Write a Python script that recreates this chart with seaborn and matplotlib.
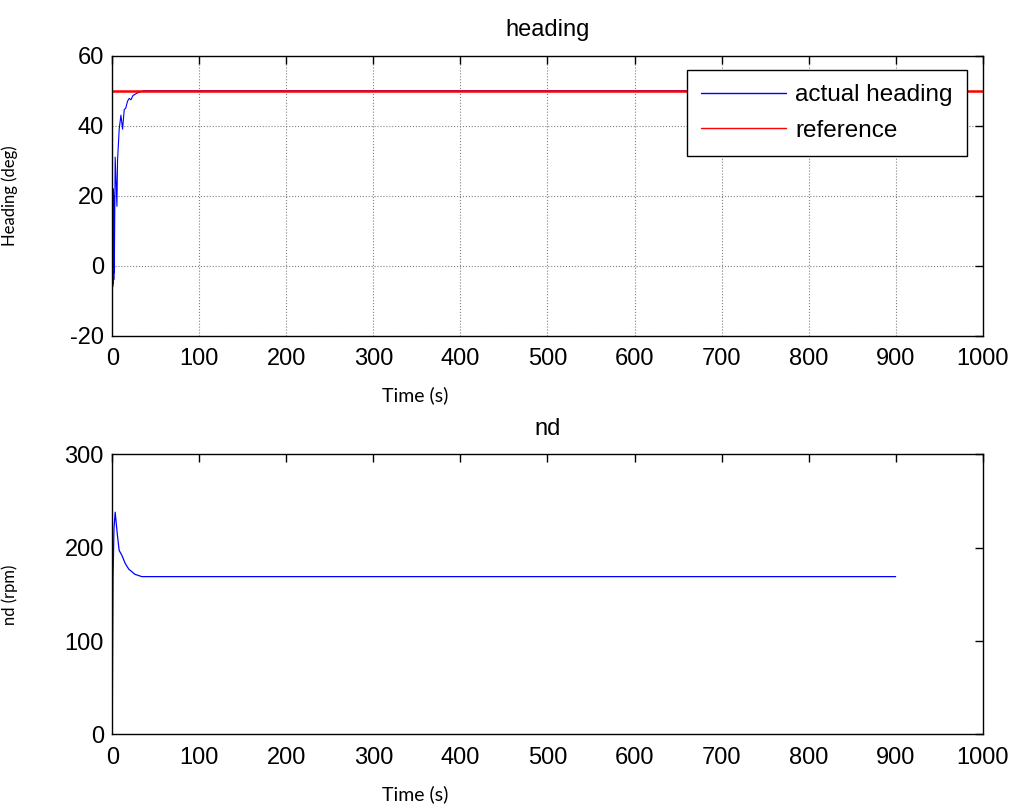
import numpy as np
import pandas as pd
import matplotlib
matplotlib.use("Agg")
import matplotlib.pyplot as plt
import seaborn as sns

# heading response (deg)
heading_t = [0, 0.3, 0.6, 0.9, 1.2, 1.5, 1.8, 2.1, 2.4, 3.4, 5.4, 6.1, 8.0, 10.0,
             11.9, 13.8, 15.5, 17.6, 19.5, 21.5, 23.8, 28.4, 36.0, 900]
heading_deg = [0, 22, -6, 22, -5, 21, -4, 20, -2, 31, 17, 30, 39, 43,
               39, 44.6, 45, 47, 47.8, 47.4, 48.6, 49.3, 50, 50]

# reference heading
ref_t = [0, 1000]
ref_deg = [50, 50]

# propeller speed nd (rpm)
nd_t = [0, 0.5, 1.0, 2.0, 3.4, 6.0, 8.0, 11.0, 15.0, 19.0, 26.0, 34.0, 900]
nd_rpm = [0, 90, 170, 220, 238, 213, 197, 192, 183, 177, 171.5, 169, 169]

x_ticks = list(range(0, 1001, 100))
heading_ticks = [-20, 0, 20, 40, 60]
nd_ticks = [0, 100, 200, 300]

sns.set_style("white")
plt.rcParams["font.family"] = ["Liberation Sans", "DejaVu Sans"]
plt.rcParams["axes.unicode_minus"] = False
plt.rcParams["text.color"] = "black"
plt.rcParams["axes.labelcolor"] = "black"
plt.rcParams["xtick.color"] = "black"
plt.rcParams["ytick.color"] = "black"
label_font = "Lato"

fig = plt.figure(figsize=(10.11, 8.07), dpi=100)
ax1 = fig.add_axes([0.111, 0.584, 0.861, 0.347])
ax2 = fig.add_axes([0.111, 0.090, 0.861, 0.347])

df_head = pd.DataFrame({"t": heading_t, "v": heading_deg})
df_ref = pd.DataFrame({"t": ref_t, "v": ref_deg})
df_nd = pd.DataFrame({"t": nd_t, "v": nd_rpm})

sns.lineplot(data=df_head, x="t", y="v", ax=ax1, color="#0000ff", lw=0.8,
             label="actual heading", estimator=None, sort=False)
sns.lineplot(data=df_ref, x="t", y="v", ax=ax1, color="#ff0000", lw=1.8,
             label="reference", estimator=None, sort=False)
sns.lineplot(data=df_nd, x="t", y="v", ax=ax2, color="#0000ff", lw=0.9,
             estimator=None, sort=False, legend=False)

for ax, yt, ylab, title in [(ax1, heading_ticks, "Heading (deg)", "heading"),
                            (ax2, nd_ticks, "nd (rpm)", "nd")]:
    ax.set_xlim(0, 1000)
    ax.set_ylim(yt[0], yt[-1])
    ax.set_xticks(x_ticks)
    ax.set_yticks(yt)
    ax.tick_params(direction="in", length=6, width=1, top=True, right=True,
                   labelsize=17)
    ax.tick_params(axis="x", pad=9)
    ax.tick_params(axis="y", pad=6)
    for s in ax.spines.values():
        s.set_color("black")
        s.set_linewidth(1.0)
    ax.set_xlabel("Time (s)", fontsize=14, family=label_font)
    ax.set_ylabel(ylab, fontsize=12, family=label_font)
    ax.xaxis.set_label_coords(0.348, -0.18)
    ax.yaxis.set_label_coords(-0.108, 0.5)
    ax.set_title(title, fontsize=17, pad=14)

ax1.grid(True, linestyle=":", color="#808080", linewidth=0.8)
ax1.set_axisbelow(True)

leg = ax1.legend(loc="upper right", bbox_to_anchor=(0.982, 0.95), fontsize=17.5,
                 frameon=True, fancybox=False, framealpha=1.0, handlelength=3.5,
                 handletextpad=0.35, borderpad=0.6, labelspacing=0.55,
                 borderaxespad=0)
leg.get_frame().set_edgecolor("black")
leg.get_frame().set_linewidth(1.0)
for line in leg.get_lines():
    line.set_linewidth(1.0)

fig.savefig("out.png", dpi=100)
